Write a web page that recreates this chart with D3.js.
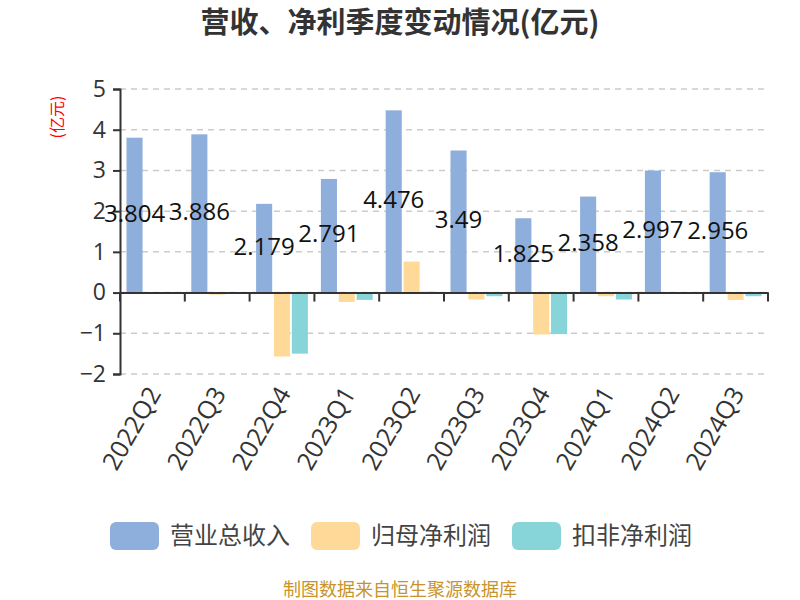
<!DOCTYPE html>
<html>
<head>
<meta charset="utf-8">
<script src="https://cdn.jsdelivr.net/npm/d3@7"></script>
<style>
  body { margin: 0; background: #fff; }
  text { font-family: "Noto Sans CJK SC", "Noto Sans", sans-serif; }
</style>
</head>
<body>
<div id="chart"></div>
<script>
// quarters and series (亿元)
var quarters = ["2022Q2", "2022Q3", "2022Q4", "2023Q1", "2023Q2", "2023Q3", "2023Q4", "2024Q1", "2024Q2", "2024Q3"];
var revenue = [3.804, 3.886, 2.179, 2.791, 4.476, 3.49, 1.825, 2.358, 2.997, 2.956];
var netProfit = [-0.01, -0.05, -1.57, -0.23, 0.76, -0.17, -1.03, -0.09, 0.01, -0.18];
var deductedProfit = [0.01, -0.03, -1.50, -0.18, 0.02, -0.09, -1.02, -0.17, 0.01, -0.09];
var seriesNames = ["营业总收入", "归母净利润", "扣非净利润"];
var yTicks = [-2, -1, 0, 1, 2, 3, 4, 5];

var width = 800, height = 600;
var colors = ["#8eaedb", "#ffd997", "#88d5d9"];
var series = [revenue, netProfit, deductedProfit];

var svg = d3.select("#chart").append("svg")
    .attr("width", width)
    .attr("height", height);

var plotLeft = 120, plotRight = 768, plotTop = 89, plotBottom = 374;

var x = d3.scaleBand().domain(quarters).range([plotLeft, plotRight]);
var xs = d3.scaleBand().domain([0, 1, 2]).range([6.5, x.bandwidth() - 6.5]).paddingInner(0.1);
var y = d3.scaleLinear().domain([-2, 5]).range([plotBottom, plotTop]);

// title
svg.append("text")
    .attr("x", 400).attr("y", 33)
    .attr("text-anchor", "middle")
    .attr("font-size", 29).attr("font-weight", "bold")
    .attr("fill", "#333")
    .text("营收、净利季度变动情况(亿元)");

// unit label
svg.append("text")
    .attr("transform", "translate(63,117) rotate(-90)")
    .attr("text-anchor", "middle")
    .attr("font-size", 16)
    .attr("fill", "red")
    .text("(亿元)");

// gridlines
svg.append("g").selectAll("line")
  .data(yTicks)
  .enter().append("line")
    .attr("x1", plotLeft).attr("x2", plotRight)
    .attr("y1", function(d) { return y(d); })
    .attr("y2", function(d) { return y(d); })
    .attr("stroke", "#ccc")
    .attr("stroke-width", 1.5)
    .attr("stroke-dasharray", "6,5");

// bars
series.forEach(function(vals, s) {
  svg.append("g").selectAll("rect")
    .data(vals)
    .enter().append("rect")
      .attr("x", function(d, i) { return x(quarters[i]) + xs(s); })
      .attr("width", xs.bandwidth())
      .attr("y", function(d) { return y(Math.max(0, d)); })
      .attr("height", function(d) { return Math.abs(y(d) - y(0)); })
      .attr("fill", colors[s]);
});

// y axis
var yAxis = svg.append("g")
    .attr("transform", "translate(" + plotLeft + ",0)")
    .call(d3.axisLeft(y).tickValues(yTicks).tickSize(7).tickPadding(7).tickFormat(d3.format("d")));
yAxis.selectAll("text").attr("font-size", 23).attr("fill", "#333")
    .style("font-family", "'Open Sans', sans-serif");
yAxis.selectAll("line").attr("stroke", "#333").attr("stroke-width", 2);
yAxis.select(".domain").attr("stroke", "#333").attr("stroke-width", 2);

// x axis at zero
var xAxis = svg.append("g")
    .attr("transform", "translate(0," + y(0) + ")")
    .call(d3.axisBottom(x).tickSize(0).tickFormat(""));
xAxis.select(".domain").attr("stroke", "#333").attr("stroke-width", 2);
var bounds = quarters.map(function(q) { return x(q); }).concat([plotRight]);
xAxis.selectAll(".bnd")
  .data(bounds)
  .enter().append("line")
    .attr("x1", function(d) { return d; }).attr("x2", function(d) { return d; })
    .attr("y1", 0).attr("y2", 9)
    .attr("stroke", "#333").attr("stroke-width", 2);

// x labels below plot
svg.append("g").selectAll("text")
  .data(quarters)
  .enter().append("text")
    .attr("transform", function(d) {
      return "translate(" + (x(d) + x.bandwidth() / 2 + 2) + "," + (plotBottom + 15) + ") rotate(-60)";
    })
    .attr("text-anchor", "end")
    .attr("dy", "0.35em")
    .attr("font-size", 25)
    .attr("fill", "#333")
    .style("font-family", "'Open Sans', sans-serif")
    .text(function(d) { return d; });

// revenue value labels
svg.append("g").selectAll("text")
  .data(revenue)
  .enter().append("text")
    .attr("x", function(d, i) { return x(quarters[i]) + xs(0) + xs.bandwidth() / 2; })
    .attr("y", function(d) { return (y(d) + y(0)) / 2 - 2; })
    .attr("dy", "0.35em")
    .attr("text-anchor", "middle")
    .attr("font-size", 24)
    .attr("fill", "#111")
    .style("font-family", "'Open Sans', sans-serif")
    .text(function(d) { return d; });

// legend
var legendX = [110, 311, 512];
var legend = svg.append("g").selectAll("g")
  .data(seriesNames)
  .enter().append("g")
    .attr("transform", function(d, i) { return "translate(" + legendX[i] + ",522)"; });
legend.append("rect")
    .attr("width", 49).attr("height", 28).attr("rx", 6)
    .attr("fill", function(d, i) { return colors[i]; });
legend.append("text")
    .attr("x", 60).attr("y", 14).attr("dy", "0.35em")
    .attr("font-size", 24).attr("fill", "#444")
    .text(function(d) { return d; });

// footer
svg.append("text")
    .attr("x", 400).attr("y", 596)
    .attr("text-anchor", "middle")
    .attr("font-size", 18)
    .attr("fill", "#c9932b")
    .text("制图数据来自恒生聚源数据库");
</script>
</body>
</html>
